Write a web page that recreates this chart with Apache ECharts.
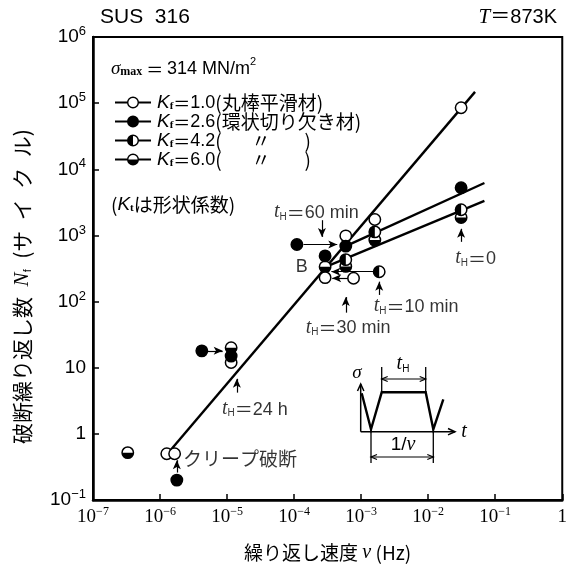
<!DOCTYPE html>
<html><head><meta charset="utf-8">
<script src="https://cdn.jsdelivr.net/npm/echarts@6/dist/echarts.min.js"></script>
<style>html,body{margin:0;padding:0;background:#fff}#c{width:570px;height:574px}</style>
</head><body><div id="c"></div>
<script>
// ---- data (ν in Hz, Nf in cycles) ----
const kf10 = [[0.031,8.5e4],[1.6e-3,1740],[5.9e-4,985],[2.9e-4,230],[7.7e-4,225],[1.15e-5,12],[1.26e-6,0.5],[1.65e-6,0.5]];
const kf26 = [[0.031,5250],[5.9e-4,690],[2.9e-4,490],[1.1e-4,730],[1.15e-5,15],[4.2e-6,18],[1.78e-6,0.2]];
const kf42 = [[0.031,2450],[1.6e-3,1130],[5.9e-4,430],[1.86e-3,283]];
const kf60 = [[0.031,1870],[1.6e-3,850],[5.9e-4,340],[2.9e-4,335],[1.15e-5,20],[3.3e-7,0.52]];
const fit1 = [[1.4e-6,0.55],[0.05,1.48e5]];
const fit2 = [[5.9e-4,690],[0.069,6200]];
const fit3 = [[2.95e-4,335],[0.069,3320]];
const arrows = [
  [[4.9e-6,18],[8.6e-6,18]],
  [[1.78e-6,0.26],[1.78e-6,0.4]],
  [[1.4e-5,4.2],[1.4e-5,6.8]],
  [[1.38e-4,730],[4.4e-4,730]],
  [[2.6e-4,1700],[2.6e-4,950]],
  [[6.4e-4,225],[3.7e-4,225]],
  [[1.58e-3,283],[3.6e-4,283]],
  [[5.9e-4,68],[5.9e-4,117]],
  [[1.86e-3,126],[1.86e-3,200]],
  [[0.031,800],[0.031,1260]]
];
const noteAt = [[2.15e-4,2350],[6.4e-4,42],[6.6e-3,89],[0.051,475],[2.6e-5,2.5],[2.2e-6,0.45],[1.3e-4,360]];
const noteText = ['60 min','30 min','10 min','0','24 h','クリープ破断','B'];
const xMin = 1e-7, xMax = 1, yMin = 0.1, yMax = 1e6;
const legendNames = ['Kf=1.0','Kf=2.6','Kf=4.2','Kf=6.0'];
const legendTail = ['1.0','2.6','4.2','6.0'];
const legendJp = ['(丸棒平滑材)','(環状切り欠き材)','(       〃        )','(       〃        )'];

const SANS = "'Liberation Sans','Noto Sans CJK JP',sans-serif";
const SERIF = "'Liberation Serif','DejaVu Serif',serif";
const JP = "'Noto Sans CJK JP',sans-serif";

const chart = echarts.init(document.getElementById('c'), null, {renderer:'canvas'});

function supLabel(v) {
  const e = Math.round(Math.log10(v));
  if (e === 0) return '{b|1}';
  if (e === 1) return '{b|10}';
  return '{b|10}{p|' + (e < 0 ? '−' : '') + Math.abs(e) + '}';
}

function markerSeries(name, data, kind) {
  return {
    type:'custom', name, data, z:5, clip:false,
    encode:{x:0,y:1},
    itemStyle:{color:'#000'},
    renderItem(params, api) {
      const p = api.coord([api.value(0), api.value(1)]);
      const r = 5.7;
      const ch = [{type:'circle', shape:{cx:p[0], cy:p[1], r},
        style:{fill: kind === 'full' ? '#000' : '#fff', stroke:'#000', lineWidth:1.5}}];
      if (kind === 'left') ch.push({type:'sector', shape:{cx:p[0], cy:p[1], r0:0, r, startAngle:Math.PI/2, endAngle:Math.PI*1.5, clockwise:true}, style:{fill:'#000'}});
      if (kind === 'bottom') ch.push({type:'sector', shape:{cx:p[0], cy:p[1], r0:0, r, startAngle:0, endAngle:Math.PI, clockwise:true}, style:{fill:'#000'}});
      return {type:'group', children:ch};
    }
  };
}

const ring = 'M12,6 A6,6 0 1,1 24,6 A6,6 0 1,1 12,6 Z ';
const hole = 'M13.4,6 A4.6,4.6 0 1,0 22.6,6 A4.6,4.6 0 1,0 13.4,6 Z ';
const bars = 'M0,4.9 L12.2,4.9 L12.2,7.1 L0,7.1 Z M23.8,4.9 L36,4.9 L36,7.1 L23.8,7.1 Z ';
const icons = [
  'path://' + bars + ring + hole,
  'path://' + bars + ring,
  'path://' + bars + ring + hole + 'M18,1.4 A4.6,4.6 0 0,0 18,10.6 Z',
  'path://' + bars + ring + hole + 'M13.4,6 A4.6,4.6 0 0,0 22.6,6 Z'
];

const lineStyleFit = {color:'#000', width:2.4};
const tH = t => '{t|t}{s|H}{e|＝}{n|' + t + '}';

const noteData = noteAt.map((v, i) => {
  let fmt, align = 'center';
  if (i < 5) fmt = tH(noteText[i]);
  else if (i === 5) { fmt = '{j|' + noteText[i] + '}'; align = 'left'; }
  else fmt = '{n|' + noteText[i] + '}';
  return {value:v, label:{formatter:fmt, align}};
});

const richNote = {
  t:{fontFamily:SERIF, fontStyle:'italic', fontSize:20, lineHeight:22, verticalAlign:'bottom'},
  s:{fontFamily:SANS, fontSize:10, lineHeight:7, verticalAlign:'bottom'},
  e:{fontFamily:JP, fontSize:18, lineHeight:22, verticalAlign:'bottom'},
  n:{fontFamily:SANS, fontSize:18, lineHeight:22, verticalAlign:'bottom'},
  j:{fontFamily:JP, fontSize:19, lineHeight:22, verticalAlign:'bottom'}
};

const option = {
  animation:false,
  backgroundColor:'#fff',
  grid:{left:93, right:5, top:37, bottom:74, show:true, borderColor:'#000', borderWidth:2},
  legend:{
    orient:'vertical', left:110, top:88, itemWidth:38, itemHeight:12, itemGap:0,
    selectedMode:false,
    data: legendNames.map((n, i) => ({name:n, icon:icons[i], itemStyle:{color:'#000', borderWidth:0}})),
    formatter: name => {
      const i = legendNames.indexOf(name);
      return '{k|K}{s|f}{e|＝}{n|' + legendTail[i] + '}{j|' + legendJp[i] + '}';
    },
    textStyle:{color:'#000', rich:{
      k:{fontFamily:SANS, fontStyle:'italic', fontSize:19, lineHeight:19, verticalAlign:'bottom'},
      s:{fontFamily:SERIF, fontWeight:'bold', fontSize:11, lineHeight:5, verticalAlign:'bottom'},
      e:{fontFamily:JP, fontSize:17, lineHeight:19, verticalAlign:'bottom'},
      n:{fontFamily:SANS, fontSize:18, lineHeight:19, verticalAlign:'bottom'},
      j:{fontFamily:JP, fontSize:19, lineHeight:19, verticalAlign:'bottom'}
    }}
  },
  xAxis:{
    type:'log', logBase:10, min:xMin, max:xMax, splitNumber:7,
    name:'{j|繰り返し速度 }{v|ν}{j| (Hz)}', nameLocation:'middle', nameGap:41,
    nameTextStyle:{color:'#000', rich:{
      j:{fontFamily:JP, fontSize:19, lineHeight:24},
      v:{fontFamily:SERIF, fontStyle:'italic', fontSize:20, lineHeight:24}
    }},
    axisLine:{show:true, lineStyle:{color:'#000', width:2.5}},
    axisTick:{show:true, inside:true, length:6, lineStyle:{color:'#000', width:1.5}},
    splitLine:{show:false},
    axisLabel:{margin:6, showMinLabel:true, showMaxLabel:true, color:'#000',
      formatter: v => supLabel(v),
      rich:{
        b:{fontFamily:SERIF, fontSize:19, lineHeight:22},
        p:{fontFamily:SERIF, fontSize:12, lineHeight:12, verticalAlign:'top'}
      }}
  },
  yAxis:{
    type:'log', logBase:10, min:yMin, max:yMax, splitNumber:7,
    name:'{j|破断繰り返し数\u2002}{n|N}{s|f}{j|\u2002(サ\u2002イ\u2002ク\u2002ル)}', nameLocation:'middle', nameGap:60, nameRotate:90,
    nameTextStyle:{color:'#000', padding:[0,36,0,0], rich:{
      j:{fontFamily:JP, fontSize:21, lineHeight:24, verticalAlign:'bottom'},
      n:{fontFamily:SERIF, fontStyle:'italic', fontSize:21, lineHeight:24, verticalAlign:'bottom'},
      s:{fontFamily:SANS, fontSize:11, lineHeight:7, verticalAlign:'bottom'}
    }},
    axisLine:{show:true, lineStyle:{color:'#000', width:2.5}},
    axisTick:{show:true, inside:true, length:6, lineStyle:{color:'#000', width:1.5}},
    splitLine:{show:false},
    axisLabel:{margin:7, showMinLabel:true, showMaxLabel:true, color:'#000',
      formatter: v => supLabel(v),
      rich:{
        b:{fontFamily:SANS, fontSize:19, lineHeight:24},
        p:{fontFamily:SANS, fontSize:13, lineHeight:13, verticalAlign:'top'}
      }}
  },
  series:[
    {type:'line', name:'fit1', data:fit1, showSymbol:false, symbol:'none', lineStyle:lineStyleFit, z:2, silent:true,
     markLine:{silent:true, symbol:['none','arrow'], symbolSize:[6,9], label:{show:false},
       lineStyle:{color:'#000', width:1.2, type:'solid'},
       data: arrows.map(a => [{coord:a[0]}, {coord:a[1]}])}},
    {type:'line', name:'fit2', data:fit2, showSymbol:false, symbol:'none', lineStyle:lineStyleFit, z:2, silent:true},
    {type:'line', name:'fit3', data:fit3, showSymbol:false, symbol:'none', lineStyle:lineStyleFit, z:2, silent:true},
    markerSeries('Kf=6.0', kf60, 'bottom'),
    markerSeries('Kf=4.2', kf42, 'left'),
    markerSeries('Kf=1.0', kf10, 'open'),
    markerSeries('Kf=2.6', kf26, 'full'),
    {type:'scatter', name:'notes', data:noteData, symbolSize:0, z:6, silent:true,
     label:{show:true, position:'inside', color:'#000', rich:richNote}}
  ],
  graphic:[
    {type:'text', left:100, top:7, style:{text:'SUS  316', font:"21px 'Liberation Sans'", fill:'#000'}},
    {type:'text', right:13, top:7, style:{text:'{i|T}{n|＝873K}', fill:'#000', rich:{
      i:{fontFamily:SERIF, fontStyle:'italic', fontSize:21}, n:{fontFamily:SANS, fontSize:20}}}},
    {type:'text', left:111, top:56, style:{text:'{g|σ}{m|max}{e| ＝ }{n|314 MN/m}{p|2}', fill:'#000', rich:{
      g:{fontFamily:SERIF, fontStyle:'italic', fontSize:19, lineHeight:22, verticalAlign:'bottom'},
      m:{fontFamily:SERIF, fontWeight:'bold', fontSize:12, lineHeight:8, verticalAlign:'bottom'},
      e:{fontFamily:JP, fontSize:17, lineHeight:22, verticalAlign:'bottom'},
      n:{fontFamily:SANS, fontSize:18, lineHeight:22, verticalAlign:'bottom'},
      p:{fontFamily:SANS, fontSize:11, lineHeight:11, verticalAlign:'top'}}}},
    {type:'text', left:111, top:195, style:{text:'{j|(}{k|K}{s|t}{j|は形状係数)}', fill:'#000', rich:{
      j:{fontFamily:JP, fontSize:19, lineHeight:22, verticalAlign:'bottom'},
      k:{fontFamily:SANS, fontStyle:'italic', fontSize:19, lineHeight:22, verticalAlign:'bottom'},
      s:{fontFamily:SERIF, fontWeight:'bold', fontSize:11, lineHeight:6, verticalAlign:'bottom'}}}},
    // inset waveform schematic
    {type:'polyline', shape:{points:[[361.7,393.3],[371,429.3],[381.7,392.3],[425.7,392.3],[433.3,429.3],[443.3,399.3]]}, style:{stroke:'#000', lineWidth:2.4, fill:null}},
    {type:'polyline', shape:{points:[[360.7,431.7],[360.7,384]]}, style:{stroke:'#000', lineWidth:1.5, fill:null}},
    {type:'polyline', shape:{points:[[357.5,391],[360.7,384],[363.9,391]]}, style:{stroke:'#000', lineWidth:1.5, fill:null}},
    {type:'polyline', shape:{points:[[360.7,431.7],[455,431.7]]}, style:{stroke:'#000', lineWidth:1.5, fill:null}},
    {type:'polyline', shape:{points:[[448,428.5],[455,431.7],[448,434.9]]}, style:{stroke:'#000', lineWidth:1.5, fill:null}},
    {type:'polyline', shape:{points:[[371,429],[371,463]]}, style:{stroke:'#000', lineWidth:1.3, fill:null}},
    {type:'polyline', shape:{points:[[433.3,429],[433.3,463]]}, style:{stroke:'#000', lineWidth:1.3, fill:null}},
    {type:'polyline', shape:{points:[[371,457],[433.3,457]]}, style:{stroke:'#000', lineWidth:1.2, fill:null}},
    {type:'polyline', shape:{points:[[377,454.5],[371,457],[377,459.5]]}, style:{stroke:'#000', lineWidth:1.2, fill:null}},
    {type:'polyline', shape:{points:[[427.3,454.5],[433.3,457],[427.3,459.5]]}, style:{stroke:'#000', lineWidth:1.2, fill:null}},
    {type:'polyline', shape:{points:[[381.7,367],[381.7,392]]}, style:{stroke:'#000', lineWidth:1.3, fill:null}},
    {type:'polyline', shape:{points:[[425.7,367],[425.7,392]]}, style:{stroke:'#000', lineWidth:1.3, fill:null}},
    {type:'polyline', shape:{points:[[381.7,379],[425.7,379]]}, style:{stroke:'#000', lineWidth:1.2, fill:null}},
    {type:'polyline', shape:{points:[[387.7,376.5],[381.7,379],[387.7,381.5]]}, style:{stroke:'#000', lineWidth:1.2, fill:null}},
    {type:'polyline', shape:{points:[[419.7,376.5],[425.7,379],[419.7,381.5]]}, style:{stroke:'#000', lineWidth:1.2, fill:null}},
    {type:'text', x:357, y:373, style:{text:'σ', font:"italic 19px 'Liberation Serif'", fill:'#000', align:'center', verticalAlign:'middle'}},
    {type:'text', x:464, y:432, style:{text:'t', font:"italic 20px 'Liberation Serif'", fill:'#000', align:'center', verticalAlign:'middle'}},
    {type:'text', x:403, y:445, style:{text:'{n|1/}{v|ν}', fill:'#000', align:'center', verticalAlign:'middle', rich:{
      n:{fontFamily:SANS, fontSize:19}, v:{fontFamily:SERIF, fontStyle:'italic', fontSize:20}}}},
    {type:'text', x:403, y:364, style:{text:'{t|t}{s|H}', fill:'#000', align:'center', verticalAlign:'middle', rich:{
      t:{fontFamily:SERIF, fontStyle:'italic', fontSize:20, lineHeight:20, verticalAlign:'bottom'},
      s:{fontFamily:SANS, fontSize:10, lineHeight:6, verticalAlign:'bottom'}}}}
  ]
};
chart.setOption(option);
</script></body></html>
